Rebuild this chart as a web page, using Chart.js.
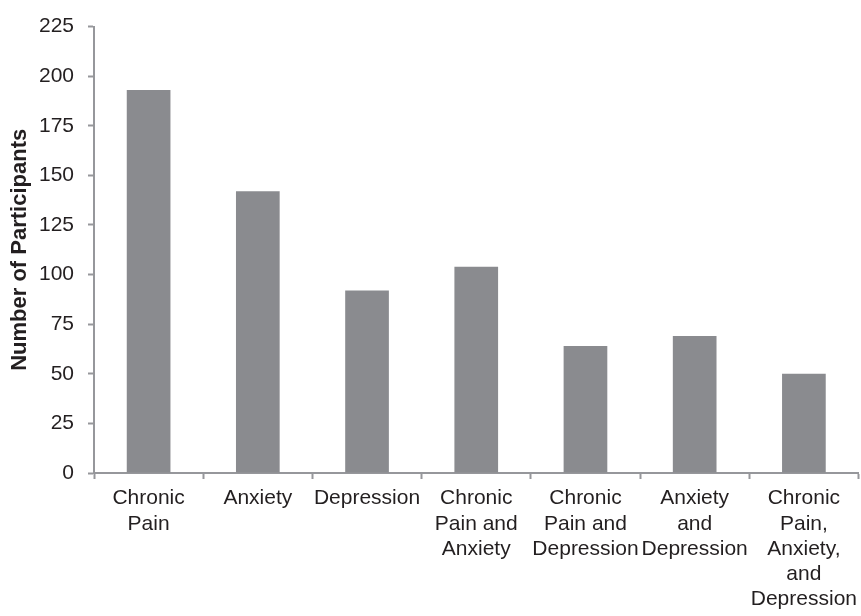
<!DOCTYPE html>
<html>
<head>
<meta charset="utf-8">
<script src="https://cdn.jsdelivr.net/npm/chart.js@4.4.1/dist/chart.umd.min.js"></script>
<style>
    html, body { margin: 0; padding: 0; background: #fff; overflow: hidden; }
    #wrap { width: 864px; height: 619px; }
</style>
</head>
<body>
<div id="wrap"><canvas id="myChart"></canvas></div>
<script>
const categories = [
    ['Chronic', 'Pain'],
    ['Anxiety'],
    ['Depression'],
    ['Chronic', 'Pain and', 'Anxiety'],
    ['Chronic', 'Pain and', 'Depression'],
    ['Anxiety', 'and', 'Depression'],
    ['Chronic', 'Pain,', 'Anxiety,', 'and', 'Depression']
];
const participants = [193, 142, 92, 104, 64, 69, 50];
const yTicks = [0, 25, 50, 75, 100, 125, 150, 175, 200, 225];

const axisGray = '#96979b';
const textColor = '#231f20';
const font = { family: '"Liberation Sans", Arial, sans-serif', size: 21, lineHeight: 1.2 };

const ctx = document.getElementById('myChart').getContext('2d');
const chart = new Chart(ctx, {
    type: 'bar',
    data: {
        labels: categories,
        datasets: [{
            label: 'Number of Participants',
            data: participants,
            backgroundColor: '#8a8b8f',
            borderWidth: 0,
            categoryPercentage: 0.8,
            barPercentage: 0.5
        }]
    },
    options: {
        responsive: true,
        maintainAspectRatio: false,
        animation: false,
        layout: { padding: { top: 6, right: 0, bottom: 0, left: 0 } },
        plugins: {
            legend: { display: false },
            tooltip: { enabled: false }
        },
        scales: {
            x: {
                grid: {
                    display: true,
                    drawOnChartArea: false,
                    drawTicks: true,
                    tickLength: 6,
                    tickWidth: 2,
                    color: axisGray
                },
                border: { display: true, color: axisGray, width: 2 },
                ticks: {
                    color: textColor,
                    font: font,
                    padding: 7,
                    maxRotation: 0,
                    autoSkip: false
                }
            },
            y: {
                min: 0,
                max: 225,
                afterBuildTicks: (scale) => {
                    scale.ticks = yTicks.map(v => ({ value: v }));
                },
                afterFit: (scale) => {
                    scale.width = 94;
                },
                grid: {
                    display: true,
                    drawOnChartArea: false,
                    drawTicks: true,
                    tickLength: 6,
                    tickWidth: 2,
                    color: axisGray
                },
                border: { display: true, color: axisGray, width: 2 },
                ticks: {
                    color: textColor,
                    font: font,
                    padding: 14
                },
                title: {
                    display: true,
                    text: 'Number of Participants',
                    color: textColor,
                    font: { family: '"Liberation Sans", Arial, sans-serif', size: 22, weight: 'bold' },
                    padding: { top: 7, bottom: 0 }
                }
            }
        }
    }
});
</script>
</body>
</html>
